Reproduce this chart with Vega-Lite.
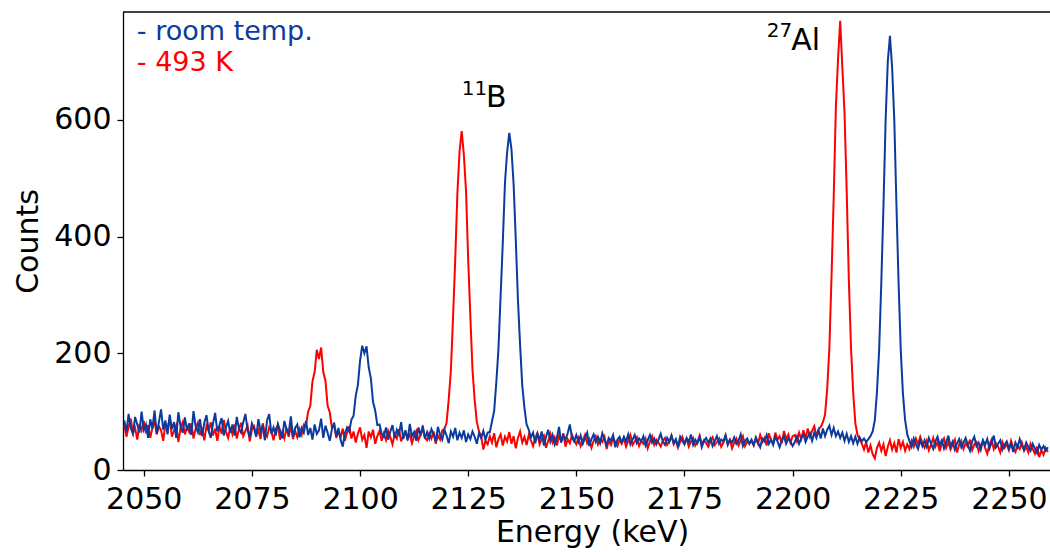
{
"$schema":"https://vega.github.io/schema/vega-lite/v6.json",
"autosize":{"type":"none"},
"width":927,"height":458,
"padding":{"left":123,"top":12,"right":0,"bottom":82},
"background":"white",
"config":{"view":{"stroke":null},"font":"DejaVu Sans","text":{"font":"DejaVu Sans"}},
"datasets":{
"spec":[
{"e":2045.5,"r":77,"b":85},{"e":2046.0,"r":57,"b":65},{"e":2046.5,"r":74,"b":96},{"e":2047.0,"r":88,"b":71},{"e":2047.5,"r":63,"b":62},{"e":2048.0,"r":72,"b":91},{"e":2048.5,"r":52,"b":78},{"e":2049.0,"r":79,"b":64},{"e":2049.5,"r":68,"b":100},{"e":2050.0,"r":84,"b":69},
{"e":2050.5,"r":63,"b":78},{"e":2051.0,"r":77,"b":55},{"e":2051.5,"r":55,"b":87},{"e":2052.0,"r":72,"b":71},{"e":2052.5,"r":84,"b":102},{"e":2053.0,"r":61,"b":62},{"e":2053.5,"r":75,"b":82},{"e":2054.0,"r":68,"b":104},{"e":2054.5,"r":50,"b":69},{"e":2055.0,"r":79,"b":85},
{"e":2055.5,"r":72,"b":61},{"e":2056.0,"r":88,"b":95},{"e":2056.5,"r":57,"b":70},{"e":2057.0,"r":68,"b":82},{"e":2057.5,"r":77,"b":55},{"e":2058.0,"r":48,"b":99},{"e":2058.5,"r":72,"b":75},{"e":2059.0,"r":82,"b":64},{"e":2059.5,"r":61,"b":90},{"e":2060.0,"r":73,"b":68},
{"e":2060.5,"r":65,"b":80},{"e":2061.0,"r":80,"b":60},{"e":2061.5,"r":54,"b":101},{"e":2062.0,"r":71,"b":74},{"e":2062.5,"r":81,"b":65},{"e":2063.0,"r":60,"b":87},{"e":2063.5,"r":72,"b":58},{"e":2064.0,"r":51,"b":81},{"e":2064.5,"r":76,"b":94},{"e":2065.0,"r":67,"b":67},
{"e":2065.5,"r":82,"b":55},{"e":2066.0,"r":59,"b":79},{"e":2066.5,"r":71,"b":98},{"e":2067.0,"r":50,"b":66},{"e":2067.5,"r":75,"b":77},{"e":2068.0,"r":62,"b":89},{"e":2068.5,"r":86,"b":59},{"e":2069.0,"r":66,"b":73},{"e":2069.5,"r":55,"b":84},{"e":2070.0,"r":73,"b":64},
{"e":2070.5,"r":61,"b":78},{"e":2071.0,"r":78,"b":59},{"e":2071.5,"r":54,"b":91},{"e":2072.0,"r":70,"b":71},{"e":2072.5,"r":81,"b":64},{"e":2073.0,"r":58,"b":82},{"e":2073.5,"r":67,"b":96},{"e":2074.0,"r":76,"b":68},{"e":2074.5,"r":49,"b":57},{"e":2075.0,"r":69,"b":80},
{"e":2075.5,"r":75,"b":71},{"e":2076.0,"r":60,"b":57},{"e":2076.5,"r":68,"b":87},{"e":2077.0,"r":53,"b":66},{"e":2077.5,"r":80,"b":76},{"e":2078.0,"r":64,"b":51},{"e":2078.5,"r":57,"b":85},{"e":2079.0,"r":73,"b":96},{"e":2079.5,"r":66,"b":62},{"e":2080.0,"r":51,"b":73},
{"e":2080.5,"r":70,"b":59},{"e":2081.0,"r":77,"b":79},{"e":2081.5,"r":52,"b":68},{"e":2082.0,"r":65,"b":54},{"e":2082.5,"r":54,"b":84},{"e":2083.0,"r":72,"b":70},{"e":2083.5,"r":57,"b":63},{"e":2084.0,"r":76,"b":92},{"e":2084.5,"r":53,"b":57},{"e":2085.0,"r":67,"b":72},
{"e":2085.5,"r":56,"b":78},{"e":2086.0,"r":70,"b":56},{"e":2086.5,"r":60,"b":72},{"e":2087.0,"r":78,"b":64},{"e":2087.5,"r":76,"b":84},{"e":2088.0,"r":100,"b":60},{"e":2088.5,"r":110,"b":72},{"e":2089.0,"r":152,"b":52},{"e":2089.5,"r":168,"b":78},{"e":2090.0,"r":206,"b":62},
{"e":2090.5,"r":190,"b":68},{"e":2091.0,"r":210,"b":88},{"e":2091.5,"r":168,"b":55},{"e":2092.0,"r":153,"b":76},{"e":2092.5,"r":110,"b":64},{"e":2093.0,"r":99,"b":50},{"e":2093.5,"r":72,"b":70},{"e":2094.0,"r":78,"b":81},{"e":2094.5,"r":55,"b":58},{"e":2095.0,"r":66,"b":72},
{"e":2095.5,"r":56,"b":52},{"e":2096.0,"r":71,"b":40},{"e":2096.5,"r":50,"b":63},{"e":2097.0,"r":64,"b":73},{"e":2097.5,"r":75,"b":66},{"e":2098.0,"r":54,"b":86},{"e":2098.5,"r":66,"b":93},{"e":2099.0,"r":47,"b":127},{"e":2099.5,"r":62,"b":146},{"e":2100.0,"r":73,"b":187},
{"e":2100.5,"r":52,"b":213},{"e":2101.0,"r":60,"b":200},{"e":2101.5,"r":38,"b":212},{"e":2102.0,"r":66,"b":176},{"e":2102.5,"r":56,"b":157},{"e":2103.0,"r":69,"b":117},{"e":2103.5,"r":45,"b":102},{"e":2104.0,"r":58,"b":77},{"e":2104.5,"r":67,"b":78},{"e":2105.0,"r":50,"b":62},
{"e":2105.5,"r":63,"b":57},{"e":2106.0,"r":51,"b":73},{"e":2106.5,"r":67,"b":52},{"e":2107.0,"r":56,"b":66},{"e":2107.5,"r":44,"b":77},{"e":2108.0,"r":61,"b":55},{"e":2108.5,"r":54,"b":69},{"e":2109.0,"r":70,"b":61},{"e":2109.5,"r":49,"b":82},{"e":2110.0,"r":60,"b":53},
{"e":2110.5,"r":65,"b":68},{"e":2111.0,"r":53,"b":51},{"e":2111.5,"r":61,"b":79},{"e":2112.0,"r":46,"b":58},{"e":2112.5,"r":58,"b":65},{"e":2113.0,"r":67,"b":50},{"e":2113.5,"r":51,"b":73},{"e":2114.0,"r":60,"b":59},{"e":2114.5,"r":72,"b":76},{"e":2115.0,"r":55,"b":54},
{"e":2115.5,"r":51,"b":65},{"e":2116.0,"r":63,"b":54},{"e":2116.5,"r":54,"b":70},{"e":2117.0,"r":66,"b":62},{"e":2117.5,"r":45,"b":49},{"e":2118.0,"r":59,"b":74},{"e":2118.5,"r":52,"b":60},{"e":2119.0,"r":68,"b":52},{"e":2119.5,"r":70,"b":69},{"e":2120.0,"r":81,"b":59},
{"e":2120.5,"r":121,"b":46},{"e":2121.0,"r":171,"b":66},{"e":2121.5,"r":262,"b":57},{"e":2122.0,"r":360,"b":72},{"e":2122.5,"r":474,"b":51},{"e":2123.0,"r":546,"b":64},{"e":2123.5,"r":581,"b":55},{"e":2124.0,"r":540,"b":68},{"e":2124.5,"r":478,"b":48},{"e":2125.0,"r":360,"b":61},
{"e":2125.5,"r":263,"b":53},{"e":2126.0,"r":171,"b":66},{"e":2126.5,"r":120,"b":57},{"e":2127.0,"r":82,"b":45},{"e":2127.5,"r":66,"b":63},{"e":2128.0,"r":58,"b":55},{"e":2128.5,"r":35,"b":67},{"e":2129.0,"r":50,"b":52},
{"e":2129.5,"r":44,"b":64},{"e":2130.0,"r":58,"b":65},{"e":2130.5,"r":47,"b":83},{"e":2131.0,"r":63,"b":101},{"e":2131.5,"r":39,"b":150},{"e":2132.0,"r":53,"b":208},{"e":2132.5,"r":61,"b":299},{"e":2133.0,"r":42,"b":390},{"e":2133.5,"r":57,"b":492},{"e":2134.0,"r":49,"b":545},
{"e":2134.5,"r":65,"b":578},{"e":2135.0,"r":45,"b":550},{"e":2135.5,"r":58,"b":490},{"e":2136.0,"r":37,"b":395},{"e":2136.5,"r":55,"b":292},{"e":2137.0,"r":66,"b":214},{"e":2137.5,"r":47,"b":145},{"e":2138.0,"r":57,"b":107},{"e":2138.5,"r":43,"b":78},{"e":2139.0,"r":60,"b":69},
{"e":2139.5,"r":51,"b":56},{"e":2140.0,"r":41,"b":64},
{"e":2140.5,"r":55,"b":46},{"e":2141.0,"r":63,"b":62},{"e":2141.5,"r":44,"b":52},{"e":2142.0,"r":53,"b":66},{"e":2142.5,"r":59,"b":42},{"e":2143.0,"r":38,"b":57},{"e":2143.5,"r":50,"b":69},{"e":2144.0,"r":62,"b":49},{"e":2144.5,"r":47,"b":60},{"e":2145.0,"r":56,"b":44},
{"e":2145.5,"r":42,"b":55},{"e":2146.0,"r":58,"b":74},{"e":2146.5,"r":50,"b":47},{"e":2147.0,"r":63,"b":59},{"e":2147.5,"r":40,"b":52},{"e":2148.0,"r":53,"b":63},{"e":2148.5,"r":46,"b":78},{"e":2149.0,"r":60,"b":55},{"e":2149.5,"r":51,"b":49},{"e":2150.0,"r":44,"b":60},
{"e":2150.5,"r":55,"b":48},{"e":2151.0,"r":41,"b":59},{"e":2151.5,"r":51,"b":45},{"e":2152.0,"r":60,"b":55},{"e":2152.5,"r":46,"b":64},{"e":2153.0,"r":53,"b":41},{"e":2153.5,"r":38,"b":53},{"e":2154.0,"r":50,"b":61},{"e":2154.5,"r":58,"b":48},{"e":2155.0,"r":44,"b":57},
{"e":2155.5,"r":53,"b":46},{"e":2156.0,"r":48,"b":63},{"e":2156.5,"r":57,"b":52},{"e":2157.0,"r":36,"b":43},{"e":2157.5,"r":50,"b":55},{"e":2158.0,"r":43,"b":50},{"e":2158.5,"r":55,"b":60},{"e":2159.0,"r":48,"b":39},{"e":2159.5,"r":41,"b":52},{"e":2160.0,"r":52,"b":57},
{"e":2160.5,"r":45,"b":47},{"e":2161.0,"r":54,"b":57},{"e":2161.5,"r":40,"b":49},{"e":2162.0,"r":50,"b":61},{"e":2162.5,"r":60,"b":44},{"e":2163.0,"r":43,"b":52},{"e":2163.5,"r":49,"b":60},{"e":2164.0,"r":56,"b":46},{"e":2164.5,"r":41,"b":54},{"e":2165.0,"r":50,"b":49},
{"e":2165.5,"r":45,"b":58},{"e":2166.0,"r":54,"b":42},{"e":2166.5,"r":37,"b":51},{"e":2167.0,"r":49,"b":60},{"e":2167.5,"r":58,"b":47},{"e":2168.0,"r":43,"b":54},{"e":2168.5,"r":52,"b":44},{"e":2169.0,"r":47,"b":52},{"e":2169.5,"r":40,"b":62},{"e":2170.0,"r":50,"b":49},
{"e":2170.5,"r":55,"b":43},{"e":2171.0,"r":43,"b":55},{"e":2171.5,"r":49,"b":48},{"e":2172.0,"r":59,"b":59},{"e":2172.5,"r":44,"b":46},{"e":2173.0,"r":51,"b":53},{"e":2173.5,"r":38,"b":40},{"e":2174.0,"r":48,"b":57},{"e":2174.5,"r":57,"b":50},{"e":2175.0,"r":46,"b":44},
{"e":2175.5,"r":53,"b":55},{"e":2176.0,"r":40,"b":48},{"e":2176.5,"r":49,"b":61},{"e":2177.0,"r":55,"b":43},{"e":2177.5,"r":42,"b":52},{"e":2178.0,"r":48,"b":46},{"e":2178.5,"r":59,"b":57},{"e":2179.0,"r":44,"b":39},{"e":2179.5,"r":51,"b":50},{"e":2180.0,"r":46,"b":55},
{"e":2180.5,"r":40,"b":47},{"e":2181.0,"r":50,"b":54},{"e":2181.5,"r":56,"b":41},{"e":2182.0,"r":43,"b":50},{"e":2182.5,"r":48,"b":58},{"e":2183.0,"r":54,"b":45},{"e":2183.5,"r":40,"b":52},{"e":2184.0,"r":47,"b":49},{"e":2184.5,"r":58,"b":60},{"e":2185.0,"r":45,"b":43},
{"e":2185.5,"r":52,"b":52},{"e":2186.0,"r":37,"b":47},{"e":2186.5,"r":47,"b":56},{"e":2187.0,"r":54,"b":45},{"e":2187.5,"r":42,"b":50},{"e":2188.0,"r":50,"b":61},{"e":2188.5,"r":58,"b":41},{"e":2189.0,"r":41,"b":50},{"e":2189.5,"r":49,"b":54},{"e":2190.0,"r":45,"b":45},
{"e":2190.5,"r":50,"b":52},{"e":2191.0,"r":42,"b":43},{"e":2191.5,"r":54,"b":56},{"e":2192.0,"r":45,"b":47},{"e":2192.5,"r":60,"b":39},{"e":2193.0,"r":48,"b":54},{"e":2193.5,"r":55,"b":49},{"e":2194.0,"r":42,"b":60},{"e":2194.5,"r":63,"b":45},{"e":2195.0,"r":51,"b":52},
{"e":2195.5,"r":45,"b":43},{"e":2196.0,"r":64,"b":57},{"e":2196.5,"r":52,"b":49},{"e":2197.0,"r":58,"b":39},{"e":2197.5,"r":46,"b":51},{"e":2198.0,"r":67,"b":58},{"e":2198.5,"r":53,"b":45},{"e":2199.0,"r":61,"b":54},{"e":2199.5,"r":47,"b":49},{"e":2200.0,"r":58,"b":41},
{"e":2200.5,"r":60,"b":48},{"e":2201.0,"r":49,"b":58},{"e":2201.5,"r":64,"b":45},{"e":2202.0,"r":53,"b":55},{"e":2202.5,"r":68,"b":61},{"e":2203.0,"r":54,"b":48},{"e":2203.5,"r":71,"b":57},{"e":2204.0,"r":57,"b":63},{"e":2204.5,"r":67,"b":50},{"e":2205.0,"r":75,"b":64},
{"e":2205.5,"r":58,"b":55},{"e":2206.0,"r":70,"b":68},{"e":2206.5,"r":74,"b":54},{"e":2207.0,"r":82,"b":71},{"e":2207.5,"r":95,"b":58},{"e":2208.0,"r":140,"b":69},{"e":2208.5,"r":210,"b":76},{"e":2209.0,"r":333,"b":60},{"e":2209.5,"r":468,"b":72},{"e":2210.0,"r":622,"b":58},
{"e":2210.5,"r":705,"b":66},{"e":2211.0,"r":770,"b":55},{"e":2211.5,"r":690,"b":64},{"e":2212.0,"r":612,"b":50},{"e":2212.5,"r":478,"b":62},{"e":2213.0,"r":325,"b":48},{"e":2213.5,"r":209,"b":58},{"e":2214.0,"r":133,"b":46},{"e":2214.5,"r":80,"b":57},{"e":2215.0,"r":60,"b":45},
{"e":2215.5,"r":52,"b":56},{"e":2216.0,"r":45,"b":49},{"e":2216.5,"r":35,"b":54},{"e":2217.0,"r":48,"b":48},{"e":2217.5,"r":30,"b":53},{"e":2218.0,"r":42,"b":58},{"e":2218.5,"r":27,"b":66},{"e":2219.0,"r":20,"b":85},{"e":2219.5,"r":38,"b":134},{"e":2220.0,"r":47,"b":205},
{"e":2220.5,"r":33,"b":321},{"e":2221.0,"r":44,"b":452},{"e":2221.5,"r":24,"b":600},{"e":2222.0,"r":40,"b":700},{"e":2222.5,"r":51,"b":744},{"e":2223.0,"r":35,"b":690},{"e":2223.5,"r":46,"b":601},{"e":2224.0,"r":30,"b":455},{"e":2224.5,"r":53,"b":320},{"e":2225.0,"r":38,"b":205},
{"e":2225.5,"r":48,"b":131},{"e":2226.0,"r":33,"b":86},{"e":2226.5,"r":44,"b":61},{"e":2227.0,"r":36,"b":50},{"e":2227.5,"r":50,"b":40},{"e":2228.0,"r":40,"b":54},{"e":2228.5,"r":54,"b":44},{"e":2229.0,"r":44,"b":36},{"e":2229.5,"r":57,"b":51},{"e":2230.0,"r":46,"b":41},
{"e":2230.5,"r":38,"b":51},{"e":2231.0,"r":50,"b":40},{"e":2231.5,"r":34,"b":55},{"e":2232.0,"r":44,"b":45},{"e":2232.5,"r":55,"b":36},{"e":2233.0,"r":40,"b":49},{"e":2233.5,"r":48,"b":57},{"e":2234.0,"r":32,"b":43},{"e":2234.5,"r":46,"b":51},{"e":2235.0,"r":54,"b":37},
{"e":2235.5,"r":38,"b":47},{"e":2236.0,"r":48,"b":59},{"e":2236.5,"r":35,"b":41},{"e":2237.0,"r":44,"b":49},{"e":2237.5,"r":52,"b":35},{"e":2238.0,"r":30,"b":45},{"e":2238.5,"r":43,"b":53},{"e":2239.0,"r":50,"b":39},{"e":2239.5,"r":36,"b":47},{"e":2240.0,"r":46,"b":55},
{"e":2240.5,"r":40,"b":43},{"e":2241.0,"r":52,"b":33},{"e":2241.5,"r":34,"b":49},{"e":2242.0,"r":44,"b":57},{"e":2242.5,"r":48,"b":41},{"e":2243.0,"r":32,"b":47},{"e":2243.5,"r":42,"b":35},{"e":2244.0,"r":50,"b":51},{"e":2244.5,"r":38,"b":43},{"e":2245.0,"r":28,"b":53},
{"e":2245.5,"r":44,"b":37},{"e":2246.0,"r":52,"b":47},{"e":2246.5,"r":36,"b":59},{"e":2247.0,"r":46,"b":39},{"e":2247.5,"r":40,"b":45},{"e":2248.0,"r":30,"b":51},{"e":2248.5,"r":48,"b":35},{"e":2249.0,"r":38,"b":43},{"e":2249.5,"r":44,"b":49},{"e":2250.0,"r":34,"b":37},
{"e":2250.5,"r":50,"b":45},{"e":2251.0,"r":38,"b":31},{"e":2251.5,"r":31,"b":47},{"e":2252.0,"r":42,"b":39},{"e":2252.5,"r":36,"b":53},{"e":2253.0,"r":47,"b":41},{"e":2253.5,"r":33,"b":35},{"e":2254.0,"r":40,"b":47},{"e":2254.5,"r":30,"b":39},{"e":2255.0,"r":45,"b":33},
{"e":2255.5,"r":36,"b":45},{"e":2256.0,"r":28,"b":37},{"e":2256.5,"r":40,"b":29},{"e":2257.0,"r":22,"b":43},{"e":2257.5,"r":34,"b":35},{"e":2258.0,"r":26,"b":41},{"e":2258.5,"r":38,"b":33},{"e":2259.0,"r":31,"b":39}
],
"ann":[{"e":2129.1,"v":622.8,"t":"B"},{"e":2199.7,"v":720,"t":"Al"}],
"sup":[{"e":2123.5,"v":642.9,"t":"11"},{"e":2194.0,"v":742.8,"t":"27"}],
"leg":[{"e":2048.4,"v":737,"t":"- room temp.","s":"b"},{"e":2048.4,"v":684,"t":"- 493 K","s":"r"}],
"frame":[{"v":785}]
},
"layer":[
{"data":{"name":"spec"},"mark":{"type":"line","color":"#ff0000","strokeWidth":2,"clip":true},
 "encoding":{
  "x":{"field":"e","type":"quantitative","title":"Energy (keV)","scale":{"domain":[2045.2,2259.5],"nice":false,"zero":false},
   "axis":{"values":[2050,2075,2100,2125,2150,2175,2200,2225,2250],"format":"d","grid":false,"labelFont":"DejaVu Sans","labelFontSize":30,"labelColor":"black","labelPadding":8,"labelFlush":false,"labelOverlap":false,"tickSize":6,"tickWidth":1.3,"tickColor":"black","domainColor":"black","domainWidth":1.3,"titleFont":"DejaVu Sans","titleFontSize":30,"titleFontWeight":"normal","titleColor":"black","titlePadding":3,"titleX":469}},
  "y":{"field":"r","type":"quantitative","title":"Counts","scale":{"domain":[0,785],"nice":false},
   "axis":{"values":[0,200,400,600],"format":"d","grid":false,"labelFont":"DejaVu Sans","labelFontSize":30,"labelColor":"black","labelPadding":6,"tickSize":6,"tickWidth":1.3,"tickColor":"black","domainColor":"black","domainWidth":1.3,"titleFont":"DejaVu Sans","titleFontSize":30,"titleFontWeight":"normal","titleColor":"black","titlePadding":10}}
 }},
{"data":{"name":"spec"},"mark":{"type":"line","color":"#0b3b9c","strokeWidth":2,"clip":true},
 "encoding":{"x":{"field":"e","type":"quantitative","title":"Energy (keV)"},"y":{"field":"b","type":"quantitative","title":"Counts"}}},
{"data":{"name":"frame"},"mark":{"type":"rule","color":"black","strokeWidth":1.3},"encoding":{"y":{"field":"v","type":"quantitative","title":"Counts"}}},
{"data":{"name":"ann"},"mark":{"type":"text","align":"left","baseline":"alphabetic","fontSize":30,"font":"DejaVu Sans","color":"black"},
 "encoding":{"x":{"field":"e","type":"quantitative","title":"Energy (keV)"},"y":{"field":"v","type":"quantitative","title":"Counts"},"text":{"field":"t"}}},
{"data":{"name":"sup"},"mark":{"type":"text","align":"left","baseline":"alphabetic","fontSize":20,"font":"DejaVu Sans","color":"black"},
 "encoding":{"x":{"field":"e","type":"quantitative","title":"Energy (keV)"},"y":{"field":"v","type":"quantitative","title":"Counts"},"text":{"field":"t"}}},
{"data":{"name":"leg"},"mark":{"type":"text","align":"left","baseline":"alphabetic","fontSize":27,"font":"DejaVu Sans"},
 "encoding":{"x":{"field":"e","type":"quantitative","title":"Energy (keV)"},"y":{"field":"v","type":"quantitative","title":"Counts"},"text":{"field":"t"},
  "color":{"field":"s","type":"nominal","scale":{"domain":["b","r"],"range":["#0b3b9c","#ff0000"]},"legend":null}}}
]
}
